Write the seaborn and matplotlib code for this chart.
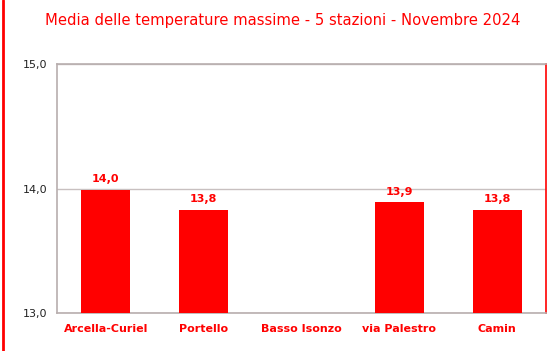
import matplotlib
matplotlib.use("Agg")
import matplotlib.pyplot as plt
import seaborn as sns
import numpy as np
import pandas as pd

stations = ["Arcella-Curiel", "Portello", "Basso Isonzo", "via Palestro", "Camin"]
tmax = [13.99, 13.83, np.nan, 13.89, 13.83]
yticks = [13.0, 14.0, 15.0]
title = "Media delle temperature massime - 5 stazioni - Novembre 2024"

df = pd.DataFrame({"station": stations, "tmax": tmax})

sns.set_theme(style="white")
plt.rcParams["font.family"] = ["DejaVu Sans"]

RED = "#ff0000"
GRAY = "#b8aeae"

fig = plt.figure(figsize=(5.54, 3.51), dpi=100)
ax = fig.add_axes([57/554, 1 - 313/351, (546-57)/554, (313-64)/351])

sns.barplot(data=df, x="station", y="tmax", color=RED, saturation=1,
            width=0.5, linewidth=0, ax=ax, zorder=3)

ax.set_ylim(13, 15)
ax.set_yticks(yticks)
ax.set_yticklabels([f"{v:.1f}".replace(".", ",") for v in yticks], fontsize=8, color="#222222")
ax.yaxis.grid(True, color="#c8c0c0", linewidth=1, zorder=0)
ax.set_xlabel("")
ax.set_ylabel("")
ax.set_xlim(-0.5, len(stations) - 0.5)

ax.tick_params(axis="x", which="major", length=0, pad=8, labelsize=8, labelcolor=RED)
for lbl in ax.get_xticklabels():
    lbl.set_fontweight("bold")
ax.set_xticks(np.arange(-0.5, len(stations)), minor=True)
ax.tick_params(axis="x", which="minor", length=5, color=GRAY, width=1)
ax.tick_params(axis="y", which="major", length=5, color=GRAY, width=1, pad=2)

for name, sp in ax.spines.items():
    sp.set_color(GRAY)
    sp.set_linewidth(1.2)
ax.spines["right"].set_color(RED)

for i, v in enumerate(tmax):
    if not np.isnan(v):
        ax.annotate(f"{v:.1f}".replace(".", ","), (i, v), xytext=(0, 4),
                    textcoords="offset points", ha="center", va="bottom",
                    fontsize=8, fontweight="bold", color=RED)

fig.text(283/554, 1 - 20/351, title, ha="center", va="center", fontsize=10.6, color=RED)
fig.add_artist(plt.Line2D([2.5/554, 2.5/554], [0, 1], color=RED, linewidth=2, transform=fig.transFigure))

fig.savefig("out.png", dpi=100)
